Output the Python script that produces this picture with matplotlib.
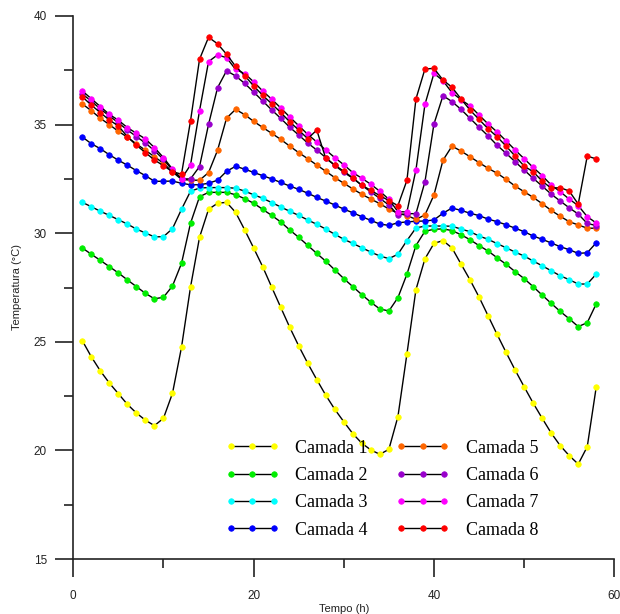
import numpy as np
import matplotlib
matplotlib.use('Agg')
import matplotlib.pyplot as plt

# tempo (h)
tempo = np.arange(1, 59)

# temperatura de cada camada (°C)
camada1 = [25.05, 24.31, 23.66, 23.10, 22.61, 22.12, 21.72, 21.39, 21.14, 21.48,
           22.63, 24.75, 27.52, 29.81, 31.10, 31.38, 31.42, 30.96, 30.16, 29.32,
           28.46, 27.52, 26.59, 25.67, 24.81, 24.01, 23.26, 22.54, 21.89, 21.32,
           20.77, 20.33, 20.02, 19.82, 20.05, 21.55, 24.44, 27.40, 28.82, 29.53,
           29.66, 29.32, 28.58, 27.85, 27.06, 26.20, 25.34, 24.51, 23.70, 22.93,
           22.18, 21.48, 20.80, 20.22, 19.76, 19.37, 20.17, 22.93]
camada2 = [29.32, 29.03, 28.75, 28.46, 28.17, 27.85, 27.54, 27.23, 26.98, 27.05,
           27.57, 28.61, 30.46, 31.68, 31.88, 31.88, 31.88, 31.77, 31.59, 31.38,
           31.10, 30.82, 30.52, 30.15, 29.81, 29.44, 29.07, 28.71, 28.31, 27.91,
           27.54, 27.17, 26.82, 26.51, 26.42, 27.03, 28.11, 29.43, 30.09, 30.18,
           30.20, 30.12, 29.93, 29.70, 29.43, 29.18, 28.87, 28.57, 28.23, 27.91,
           27.54, 27.15, 26.77, 26.40, 26.06, 25.70, 25.88, 26.75]
camada3 = [31.42, 31.22, 31.01, 30.82, 30.62, 30.42, 30.19, 30.01, 29.83, 29.84,
           30.21, 31.10, 31.93, 32.08, 32.10, 32.10, 32.10, 32.07, 31.94, 31.77,
           31.61, 31.41, 31.21, 31.01, 30.82, 30.61, 30.41, 30.19, 29.95, 29.72,
           29.53, 29.33, 29.13, 28.95, 28.83, 29.03, 29.66, 30.24, 30.33, 30.33,
           30.33, 30.32, 30.19, 30.07, 29.87, 29.72, 29.52, 29.33, 29.13, 28.95,
           28.72, 28.50, 28.27, 28.04, 27.86, 27.66, 27.66, 28.12]
camada4 = [34.43, 34.12, 33.89, 33.61, 33.36, 33.13, 32.88, 32.65, 32.39, 32.39,
           32.40, 32.30, 32.23, 32.23, 32.30, 32.44, 32.85, 33.08, 32.95, 32.80,
           32.65, 32.50, 32.34, 32.17, 32.02, 31.84, 31.65, 31.48, 31.30, 31.11,
           30.94, 30.76, 30.59, 30.42, 30.36, 30.48, 30.52, 30.55, 30.56, 30.61,
           30.92, 31.16, 31.05, 30.92, 30.81, 30.65, 30.53, 30.39, 30.23, 30.07,
           29.87, 29.72, 29.55, 29.38, 29.24, 29.07, 29.10, 29.56]
camada5 = [35.95, 35.64, 35.29, 35.00, 34.69, 34.42, 34.11, 33.82, 33.52, 33.22,
           32.82, 32.48, 32.44, 32.44, 32.79, 33.82, 35.30, 35.70, 35.46, 35.15,
           34.87, 34.60, 34.32, 34.01, 33.71, 33.43, 33.14, 32.85, 32.56, 32.30,
           32.04, 31.79, 31.57, 31.36, 31.11, 30.92, 30.81, 30.64, 30.84, 31.76,
           33.36, 34.01, 33.78, 33.52, 33.25, 32.99, 32.76, 32.48, 32.17, 31.91,
           31.65, 31.36, 31.05, 30.78, 30.53, 30.38, 30.23, 30.23]
camada6 = [36.41, 36.08, 35.72, 35.40, 35.08, 34.75, 34.45, 34.15, 33.80, 33.40,
           32.90, 32.50, 32.50, 33.07, 35.01, 36.70, 37.48, 37.24, 36.90, 36.50,
           36.09, 35.68, 35.29, 34.88, 34.52, 34.15, 33.83, 33.48, 33.12, 32.80,
           32.53, 32.20, 31.90, 31.60, 31.30, 30.84, 30.90, 30.90, 32.37, 35.03,
           36.33, 36.06, 35.70, 35.29, 34.88, 34.48, 34.05, 33.68, 33.29, 32.91,
           32.53, 32.17, 31.80, 31.48, 31.17, 30.88, 30.45, 30.35]
camada7 = [36.55, 36.19, 35.83, 35.47, 35.20, 34.86, 34.60, 34.34, 33.94, 33.48,
           32.95, 32.51, 33.14, 35.64, 37.90, 38.21, 38.08, 37.54, 37.35, 36.97,
           36.55, 36.17, 35.77, 35.35, 34.95, 34.55, 34.20, 33.83, 33.48, 33.15,
           32.79, 32.53, 32.25, 31.93, 31.56, 30.99, 30.98, 32.91, 35.93, 37.36,
           37.02, 36.47, 36.15, 35.86, 35.44, 35.03, 34.66, 34.25, 33.83, 33.43,
           33.03, 32.65, 32.22, 31.91, 31.57, 31.27, 30.76, 30.47]
camada8 = [36.28, 35.90, 35.55, 35.21, 34.94, 34.44, 34.05, 33.71, 33.37, 33.11,
           32.83, 32.72, 35.17, 38.01, 39.02, 38.72, 38.24, 37.68, 37.26, 36.78,
           36.35, 35.96, 35.56, 35.13, 34.75, 34.35, 34.75, 33.44, 33.14, 32.85,
           32.55, 32.21, 31.97, 31.73, 31.50, 31.27, 32.43, 36.18, 37.56, 37.59,
           37.05, 36.72, 36.18, 35.67, 35.24, 34.81, 34.44, 34.01, 33.55, 33.09,
           32.83, 32.40, 32.07, 32.10, 31.94, 31.34, 33.55, 33.42]

series = [camada1, camada2, camada3, camada4, camada5, camada6, camada7, camada8]
nomes = ['Camada 1', 'Camada 2', 'Camada 3', 'Camada 4',
         'Camada 5', 'Camada 6', 'Camada 7', 'Camada 8']
cores = ['#ffff00', '#00ee00', '#00ffff', '#0000ff',
         '#ff6600', '#9900cc', '#ff00ff', '#ff0000']

plt.rcParams['font.family'] = ['Liberation Sans', 'DejaVu Sans']

fig = plt.figure(figsize=(6.2, 6.14), dpi=100)
ax = fig.add_axes([73.3 / 620, 55 / 614, 541 / 620, 543 / 614])

for y, nome, cor in zip(series, nomes, cores):
    ax.plot(tempo, y, color='black', lw=1, marker='o', ms=4,
            mfc=cor, mec=cor, mew=0.5, label=nome)

ax.set_xlim(0, 60)
ax.set_ylim(15, 40)
ax.set_xticks([0, 20, 40, 60])
ax.set_xticks([10, 30, 50], minor=True)
ax.set_yticks([15, 20, 25, 30, 35, 40])
ax.set_yticks([17.5, 22.5, 27.5, 32.5, 37.5], minor=True)

for s in ['top', 'right']:
    ax.spines[s].set_visible(False)
for s in ['left', 'bottom']:
    ax.spines[s].set_linewidth(1.2)
    ax.spines[s].set_color('#222222')

ax.tick_params(which='major', direction='out', length=13, width=1.2,
               color='#222222', labelsize=8.5, labelcolor='#222222')
ax.tick_params(which='minor', direction='out', length=6.5, width=1.2,
               color='#222222')
ax.tick_params(axis='y', which='major', pad=6)
ax.tick_params(axis='x', which='major', pad=9)

ax.set_ylabel('Temperatura (°C)', fontsize=8, color='#222222')
ax.yaxis.set_label_coords(-0.095, 0.5)
ax.set_xlabel('Tempo (h)', fontsize=8, color='#222222')
ax.xaxis.set_label_coords(0.5, -0.082)

leg = ax.legend(ncol=2, loc='upper left', bbox_to_anchor=(0.282, 0.2195),
                frameon=False, numpoints=3, handlelength=2.95,
                handletextpad=0.9, columnspacing=1.55, labelspacing=0.57,
                borderpad=0, borderaxespad=0,
                prop={'family': ['Liberation Serif'], 'size': 13})

plt.savefig('out.png', dpi=100)
